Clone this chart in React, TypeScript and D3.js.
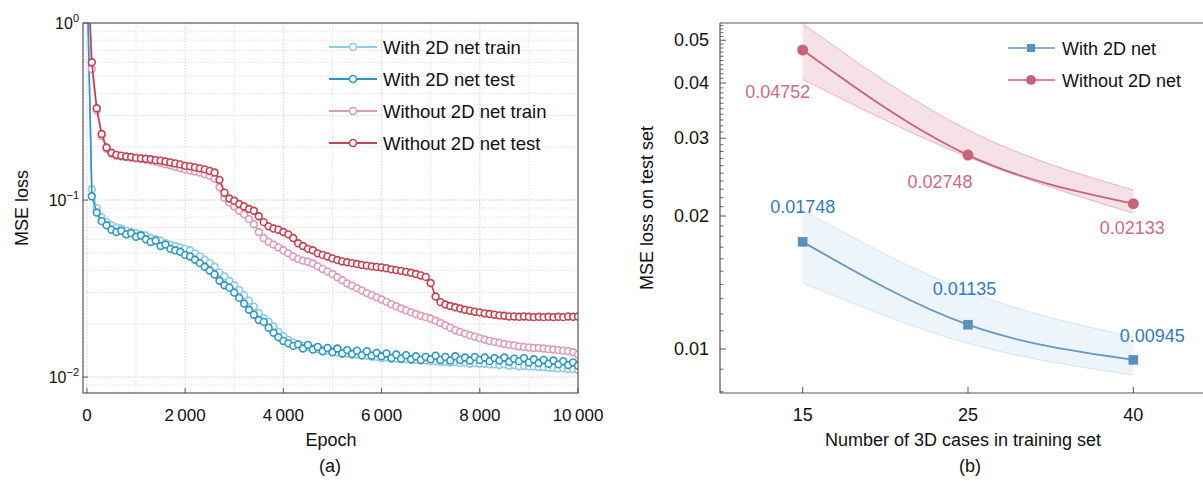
import React from "react";
import * as d3 from "d3";

// ---- panel (a): loss curves, sampled every 100 epochs ----
const epochs = d3.range(0, 10001, 100);

const withTrain = [
  2.0, 0.115, 0.09, 0.08, 0.075, 0.072, 0.07, 0.069, 0.067, 0.066,
  0.065, 0.064, 0.063, 0.061, 0.06, 0.059, 0.057, 0.056, 0.055, 0.054,
  0.053, 0.052, 0.05, 0.048, 0.046, 0.044, 0.042, 0.039, 0.037, 0.035,
  0.033, 0.031, 0.029, 0.027, 0.025, 0.023, 0.0215, 0.0205, 0.0193, 0.018,
  0.017, 0.0162, 0.0157, 0.0153, 0.015, 0.0148, 0.0145, 0.0144, 0.0142, 0.0141,
  0.0139, 0.0138, 0.0136, 0.0136, 0.0134, 0.0134, 0.0132, 0.0132, 0.013, 0.013,
  0.0128, 0.0129, 0.0127, 0.0127, 0.0126, 0.0126, 0.0125, 0.0125, 0.0124, 0.0124,
  0.0123, 0.0123, 0.0122, 0.0122, 0.0121, 0.0122, 0.012, 0.0121, 0.0119, 0.012,
  0.0119, 0.0119, 0.0118, 0.0118, 0.0117, 0.0118, 0.0116, 0.0117, 0.0115, 0.0116,
  0.0115, 0.0115, 0.0114, 0.0114, 0.0113, 0.0113, 0.0112, 0.0112, 0.0111, 0.0111,
  0.011,
];

const withTest = [
  2.0, 0.105, 0.085, 0.076, 0.072, 0.068, 0.066, 0.067, 0.064, 0.065,
  0.062, 0.063, 0.06, 0.058, 0.059, 0.055, 0.056, 0.053, 0.052, 0.051,
  0.049, 0.048, 0.046, 0.044, 0.042, 0.04, 0.038, 0.035, 0.033, 0.032,
  0.03, 0.028, 0.026, 0.024, 0.0225, 0.021, 0.0205, 0.019, 0.0178, 0.0168,
  0.016, 0.0155, 0.015, 0.0153, 0.0145, 0.0152, 0.0143, 0.0148, 0.014, 0.0146,
  0.0138, 0.0145, 0.0136, 0.0142, 0.0135, 0.0141, 0.0133, 0.014, 0.0132, 0.0137,
  0.0131, 0.0136, 0.0128, 0.0134, 0.0127, 0.0133, 0.0126, 0.0131, 0.0125, 0.013,
  0.0126, 0.0132, 0.0125, 0.013, 0.0124, 0.0131, 0.0125, 0.0129, 0.0124, 0.013,
  0.0125, 0.0129, 0.0123, 0.0128, 0.0124, 0.0129, 0.0122, 0.0127, 0.0123, 0.0128,
  0.0121, 0.0126, 0.012, 0.0125, 0.0119, 0.0124, 0.0118, 0.0123, 0.0117, 0.0121,
  0.0116,
];

const withoutTrain = [
  2.5, 0.55, 0.32, 0.23, 0.195, 0.183, 0.178, 0.176, 0.175, 0.174,
  0.172, 0.171, 0.169, 0.167, 0.165, 0.162, 0.159, 0.157, 0.154, 0.151,
  0.149, 0.147, 0.145, 0.143, 0.14, 0.137, 0.132, 0.118, 0.103, 0.097,
  0.092, 0.087, 0.083, 0.078, 0.073, 0.066, 0.061, 0.058, 0.056, 0.054,
  0.052, 0.05, 0.048, 0.0465, 0.0455, 0.0448, 0.0438, 0.0422, 0.0408, 0.0395,
  0.0382, 0.0366, 0.0352, 0.0338, 0.0328, 0.0318, 0.0308, 0.0298, 0.029, 0.0282,
  0.0274, 0.0266, 0.0258, 0.0251, 0.0244, 0.0238, 0.0232, 0.0227, 0.0222, 0.0218,
  0.0214, 0.0208, 0.0202, 0.0196, 0.019, 0.0184, 0.018, 0.0176, 0.0172, 0.0169,
  0.0166, 0.0163, 0.016, 0.0158, 0.0156, 0.0154, 0.0152, 0.0151, 0.0149, 0.0148,
  0.0147, 0.0146, 0.0146, 0.0145, 0.0144, 0.0143, 0.0142, 0.0141, 0.014, 0.0138,
  0.0134,
];

const withoutTest = [
  2.5, 0.6, 0.33, 0.236, 0.198, 0.185, 0.18, 0.178, 0.176, 0.175,
  0.173, 0.172, 0.171, 0.17, 0.168, 0.167, 0.165, 0.163, 0.161, 0.159,
  0.156, 0.155, 0.153, 0.151, 0.149, 0.146, 0.143, 0.13, 0.11, 0.102,
  0.099, 0.095, 0.092, 0.089, 0.087, 0.081, 0.075, 0.071, 0.069, 0.068,
  0.066, 0.064, 0.061, 0.057, 0.055, 0.053, 0.052, 0.05, 0.049, 0.048,
  0.0468, 0.0458, 0.045, 0.0445, 0.044, 0.0435, 0.043, 0.0426, 0.0422, 0.0419,
  0.0416, 0.0412, 0.0406, 0.0402, 0.0398, 0.0393, 0.0388, 0.0382, 0.0375, 0.0368,
  0.034, 0.0285, 0.0265, 0.0257, 0.0252, 0.0248, 0.0244, 0.024, 0.0237, 0.0234,
  0.0232, 0.0229, 0.0227, 0.0225, 0.0223, 0.0222, 0.022, 0.022, 0.0219, 0.022,
  0.0219, 0.0218, 0.0219, 0.0218, 0.0219, 0.0218, 0.0219, 0.0218, 0.022, 0.0219,
  0.022,
];

const seriesNames = ["With 2D net train", "With 2D net test", "Without 2D net train", "Without 2D net test"];
const seriesColors = ["#8ccae6", "#2a98c6", "#de9ab9", "#c8404f"];
const xTicksA = [0, 2000, 4000, 6000, 8000, 10000];
const yDecadesA = [-2, -1, 0];

// ---- panel (b): test loss vs number of 3D cases ----
const cases = ["15", "25", "40"];
const withMean = [0.01748, 0.01135, 0.00945];
const withLow = [0.0141, 0.0103, 0.00873];
const withHigh = [0.0206, 0.0135, 0.01064];
const withoutMean = [0.04752, 0.02748, 0.02133];
const withoutLow = [0.0408, 0.0272, 0.0203];
const withoutHigh = [0.0545, 0.0313, 0.0229];
const yTicksB = [0.01, 0.02, 0.03, 0.04, 0.05];

const FONT = "'Liberation Sans', Arial, Helvetica, sans-serif";
const AXIS = "#555";

const fmtThousands = (v: number) => (v >= 1000 ? d3.format(",")(v).replace(",", "\u2009") : String(v));

export default function App() {
  // scales (a)
  const xA = d3.scaleLinear().domain([-80, 10000]).range([83, 578]);
  const yA = d3.scaleLog().domain([Math.pow(10, -2.09), 1]).range([393, 23]);
  const lineA = d3
    .line<number>()
    .x((_, i) => xA(epochs[i]))
    .y((d) => yA(d));
  const seriesA = [withTrain, withTest, withoutTrain, withoutTest];

  const gridY: number[] = [];
  [0.001, 0.01, 0.1].forEach((b) => d3.range(1, 10).forEach((k) => gridY.push(b * k)));
  const gridYIn = gridY.filter((v) => v >= yA.domain()[0] && v <= 1);
  const gridX = d3.range(0, 10000, 1000);

  // scales (b)
  const xB = d3.scalePoint<string>().domain(cases).range([720, 1216]).padding(0.5);
  const yB = d3.scaleLog().domain([0.00795, 0.0547]).range([393, 23]);
  const minorB = d3.range(8, 55).filter((k) => k % 10 !== 0).map((k) => k / 1000);

  const lineB = (vals: number[]) =>
    d3
      .line<number>()
      .x((_, i) => xB(cases[i]) as number)
      .y((d) => yB(d))
      .curve(d3.curveNatural)(vals) as string;
  const bandB = (lo: number[], hi: number[]) =>
    d3
      .area<number>()
      .x((_, i) => xB(cases[i]) as number)
      .y0((_, i) => yB(lo[i]))
      .y1((d) => yB(d))
      .curve(d3.curveNatural)(hi) as string;

  const redLine = "#c9637a";
  const redText = "#d26a80";
  const blueLine = "#6498c6";
  const blueMark = "#5b90ba";
  const blueText = "#2f7bc4";

  const withoutLabelOff = [
    [-25, 48],
    [-28, 33],
    [-1, 30],
  ];
  const withLabelOff = [
    [0, -29],
    [-3.5, -30],
    [19, -18],
  ];

  return (
    <svg
      width={1203}
      height={481}
      style={{ position: "absolute", left: 0, top: 0, background: "#fff" }}
      fontFamily={FONT}
    >
      <defs>
        <clipPath id="clipA">
          <rect x={83} y={23} width={495} height={370} />
        </clipPath>
        <clipPath id="clipB">
          <rect x={720} y={23} width={500} height={370} />
        </clipPath>
      </defs>
      <rect x={0} y={0} width={1203} height={481} fill="#fff" />

      {/* ===== panel (a) ===== */}
      <g>
        {gridYIn.map((v) => (
          <line
            key={"gy" + v}
            x1={83}
            x2={578}
            y1={yA(v)}
            y2={yA(v)}
            stroke={[0.01, 0.1].some((d) => Math.abs(d - v) < 1e-9) ? "#bbb" : "#d8d8d8"}
            strokeWidth={0.8}
            strokeDasharray="1.5,1.5"
          />
        ))}
        {gridX.map((v) => (
          <line
            key={"gx" + v}
            x1={xA(v)}
            x2={xA(v)}
            y1={23}
            y2={393}
            stroke={v % 2000 === 0 ? "#c8c8c8" : "#dcdcdc"}
            strokeWidth={0.8}
            strokeDasharray="1.5,1.5"
          />
        ))}

        <g clipPath="url(#clipA)">
          {seriesA.map((vals, s) => (
            <g key={"s" + s}>
              <path d={lineA(vals) as string} fill="none" stroke={seriesColors[s]} strokeWidth={1.6} />
              {vals.map((v, i) => (
                <circle
                  key={i}
                  cx={xA(epochs[i])}
                  cy={yA(v)}
                  r={3.4}
                  fill="#fff"
                  stroke={seriesColors[s]}
                  strokeWidth={1.6}
                />
              ))}
            </g>
          ))}
        </g>

        <rect x={83} y={23} width={495} height={370} fill="none" stroke={AXIS} strokeWidth={1.2} />

        {xTicksA.map((t) => (
          <g key={"xt" + t}>
            <line x1={xA(t)} x2={xA(t)} y1={393} y2={388} stroke={AXIS} strokeWidth={1} />
            <text x={xA(t)} y={421} fontSize={17} textAnchor="middle" fill="#111">
              {fmtThousands(t)}
            </text>
          </g>
        ))}
        {yDecadesA.map((e) => (
          <g key={"yt" + e}>
            <line x1={83} x2={88} y1={yA(Math.pow(10, e))} y2={yA(Math.pow(10, e))} stroke={AXIS} strokeWidth={1} />
            <text x={79} y={yA(Math.pow(10, e)) + 5.5} fontSize={16} textAnchor="end" fill="#111">
              <tspan>10</tspan>
              <tspan dy={-7} fontSize={11}>
                {e === 0 ? "0" : "\u2212" + Math.abs(e)}
              </tspan>
            </text>
          </g>
        ))}

        <text x={331} y={446} fontSize={18} textAnchor="middle" fill="#111">
          Epoch
        </text>
        <text x={330} y={472} fontSize={18} textAnchor="middle" fill="#111">
          (a)
        </text>
        <text transform="translate(28,208) rotate(-90)" fontSize={18} textAnchor="middle" fill="#111">
          MSE loss
        </text>

        {seriesNames.map((n, s) => {
          const cy = 47 + s * 32;
          return (
            <g key={"lg" + s}>
              <line x1={329} x2={377} y1={cy} y2={cy} stroke={seriesColors[s]} strokeWidth={2} />
              <circle cx={353} cy={cy} r={3.5} fill="#fff" stroke={seriesColors[s]} strokeWidth={1.5} />
              <text x={383} y={cy + 6.5} fontSize={18.5} fill="#111">
                {n}
              </text>
            </g>
          );
        })}
      </g>

      {/* ===== panel (b) ===== */}
      <g>
        <g clipPath="url(#clipB)">
          <path d={bandB(withoutLow, withoutHigh)} fill="#f7e1e8" stroke="none" />
          <path d={lineB(withoutHigh)} fill="none" stroke="#ecb2c2" strokeWidth={1} />
          <path d={lineB(withoutLow)} fill="none" stroke="#ecb2c2" strokeWidth={1} />
          <path d={bandB(withLow, withHigh)} fill="#edf4fa" stroke="none" />
          <path d={lineB(withHigh)} fill="none" stroke="#d4e5f2" strokeWidth={1} />
          <path d={lineB(withLow)} fill="none" stroke="#d4e5f2" strokeWidth={1} />

          <path d={lineB(withoutMean)} fill="none" stroke={redLine} strokeWidth={1.8} />
          <path d={lineB(withMean)} fill="none" stroke={blueLine} strokeWidth={1.8} />
          {withoutMean.map((v, i) => (
            <circle key={"rm" + i} cx={xB(cases[i]) as number} cy={yB(v)} r={5.5} fill={redLine} />
          ))}
          {withMean.map((v, i) => (
            <rect
              key={"bm" + i}
              x={(xB(cases[i]) as number) - 4.8}
              y={yB(v) - 4.8}
              width={9.6}
              height={9.6}
              fill={blueMark}
            />
          ))}
        </g>

        {withoutMean.map((v, i) => (
          <text
            key={"rl" + i}
            x={(xB(cases[i]) as number) + withoutLabelOff[i][0]}
            y={yB(v) + withoutLabelOff[i][1]}
            fontSize={18}
            textAnchor="middle"
            fill={redText}
          >
            {v.toFixed(5)}
          </text>
        ))}
        {withMean.map((v, i) => (
          <text
            key={"bl" + i}
            x={(xB(cases[i]) as number) + withLabelOff[i][0]}
            y={yB(v) + withLabelOff[i][1]}
            fontSize={18}
            textAnchor="middle"
            fill={blueText}
          >
            {v.toFixed(5)}
          </text>
        ))}

        {/* frame */}
        <line x1={720} x2={1203} y1={23} y2={23} stroke={AXIS} strokeWidth={1.2} />
        <line x1={720} x2={1203} y1={393} y2={393} stroke={AXIS} strokeWidth={1.2} />
        <line x1={720} x2={720} y1={23} y2={393} stroke={AXIS} strokeWidth={1.2} />

        {minorB.map((v) => (
          <line key={"mb" + v} x1={720} x2={723.5} y1={yB(v)} y2={yB(v)} stroke={AXIS} strokeWidth={0.9} />
        ))}
        {yTicksB.map((v) => (
          <g key={"yb" + v}>
            <line x1={720} x2={726} y1={yB(v)} y2={yB(v)} stroke={AXIS} strokeWidth={1} />
            <text x={709} y={yB(v) + 6} fontSize={18} textAnchor="end" fill="#111">
              {String(v)}
            </text>
          </g>
        ))}
        {cases.map((c) => (
          <g key={"xb" + c}>
            <line x1={xB(c) as number} x2={xB(c) as number} y1={393} y2={387} stroke={AXIS} strokeWidth={1} />
            <text x={xB(c) as number} y={421} fontSize={18} textAnchor="middle" fill="#111">
              {c}
            </text>
          </g>
        ))}

        <text x={963} y={446} fontSize={18} textAnchor="middle" fill="#111">
          Number of 3D cases in training set
        </text>
        <text x={970} y={472} fontSize={18} textAnchor="middle" fill="#111">
          (b)
        </text>
        <text transform="translate(653,208) rotate(-90)" fontSize={18} textAnchor="middle" fill="#111">
          MSE loss on test set
        </text>

        {/* legend */}
        <g>
          <line x1={1008} x2={1055} y1={48} y2={48} stroke={blueLine} strokeWidth={1.6} />
          <rect x={1027} y={44} width={8} height={8} fill={blueMark} />
          <text x={1062} y={54.5} fontSize={18} fill="#111">
            With 2D net
          </text>
          <line x1={1008} x2={1055} y1={80} y2={80} stroke={redLine} strokeWidth={1.6} />
          <circle cx={1031} cy={80} r={5} fill={redLine} />
          <text x={1062} y={86.5} fontSize={18} fill="#111">
            Without 2D net
          </text>
        </g>
      </g>
    </svg>
  );
}
